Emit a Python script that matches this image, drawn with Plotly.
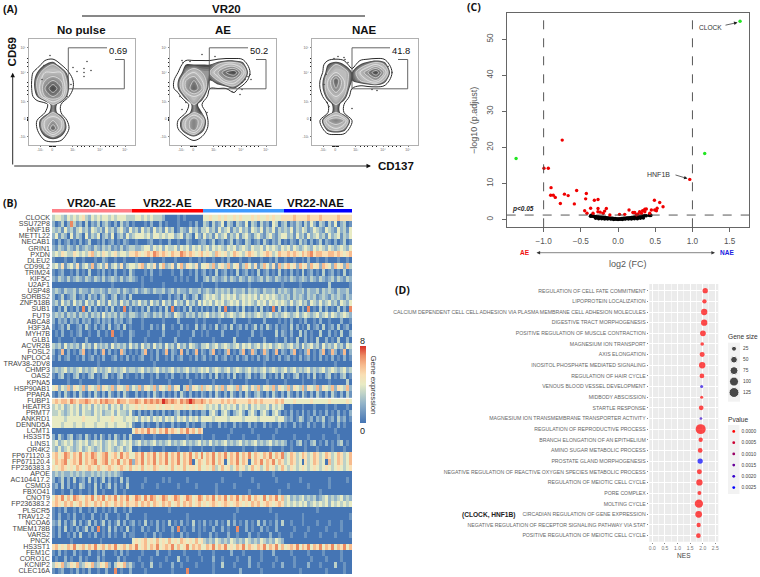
import plotly.graph_objects as go

W, H = 760, 577
def fx(p): return p / W
def fy(p): return 1 - p / H
FONT = "Liberation Sans"

# ---------- (A) flow cytometry density, digits read per 8-unit grid cell, top row first ----------
flow_grid = [0, 8, 16, 24, 32, 40, 48, 56, 64, 72, 80, 88, 96, 104]
flow_np = ["00000000000000","00000000000000","00000000000000",
           "00231000000000","02444100000000","03565200000000","03686200000000",
           "02565100000000","00031000000000","00131000000000","01454000000000",
           "01474100000000","00232000000000","00000000000000"]
flow_ae = ["00000000000000","00000000000000","00000000000000",
           "00222234430000","01343357851000","02564235530000","02575111200000",
           "00343000000000","00031000000000","00132000000000","01464000000000",
           "01463000000000","00121000000000","00000000000000"]
flow_nae = ["00000000000000","00000000000000","00000000000000",
            "00232023430000","00344246851000","01474234530000","01464100000000",
            "00343000000000","00131000000000","00131000000000","01565100000000",
            "00343000000000","00000000000000","00000000000000"]
flow_titles = ["No pulse", "AE", "NAE"]
flow_pct = ["0.69", "50.2", "41.8"]
flow_xticks = [11, 23.3, 43.7, 71, 96]
flow_xlabels = ["-10³", "0", "10³", "10⁴", "10⁵"]
flow_yticks = [8, 25.7, 42.7, 72, 97]
flow_ylabels = ["-10³", "0", "10³", "10⁴", "10⁵"]
flow_out_x = [[44,48,55,58,62,55,55,21,15,13,38,42],
              [13,12,20,32,45,78,75,72,81,80,72,16,12,10,70,62,37],
              [22,26,32,33,36,14,15,17,40,76,80,65,60,12]]
flow_out_y = [[77,73,76,83,74,72,68,89,79,65,48,60],
              [82,84,83,90,88,68,65,62,65,70,55,42,35,48,50,53,32],
              [86,88,87,85,82,70,42,38,36,78,72,54,55,60]]
flow_gate_x = [[86,95.3,95.3,39.3,39.3,78],[86,96,96,39.3,39.3,78],[86,95.7,95.7,40,40,78]]
flow_gate_y = [[85,85,55.7,55.7,96.7,96.7]] * 3

# ---------- (B) heat map: digits 0-8 read per ~3 px column, four sample groups ----------
genes = ["CLOCK","SSU72P8","HNF1B","METTL22","NECAB1","GRIN1","PXDN","DLEU2","CD99L2","TRIM24","KIF5C","U2AF1",
 "USP48","SORBS2","ZNF518B","SUB1","FUT9","ABCA8","H3F3A","MYH7B","GLB1","ACVR2B","FOSL2","NPLOC4","TRAV38-2DV8",
 "CHMP3","OAS2","KPNA5","HSP90AB1","PPARA","FUBP1","HEATR3","PRMT7","ANKRD1","DENND5A","LCMT1","HS3ST5","LINS1",
 "OR4K2","FP671120.3","FP671120.4","FP236383.3","APOE","AC104417.2","CSMD3","FBXO41","CNOT9","FP236383.2","PLSCR5",
 "TRAV12-2","NCOA6","TMEM178B","VARS2","PNCK","HS3ST1","FEM1C","CORO1C","KCNIP2","CLEC16A"]
group_names = ["VR20-AE", "VR22-AE", "VR20-NAE", "VR22-NAE"]
group_cols = [27, 24, 27, 23]
heat_rows = [
"344324343453243434434344433 344343433320000101000000 445445454454544454544545445 55565555655565555565555",
"201302731203021302310203120 100010200201000100010200 320312403203214032031204302 30213203142032031402301",
"323142313423143231423134214 231423142314230132142313 342314234132423143241324132 32413243124321432142314",
"241320413204132402314023142 344434244343442341320421 423142341324134213421342134 42314231423423142341324",
"102012010201300102012010210 010001200100200100210012 201301201302103201203102130 10210312020130210201301",
"213213213123213213231213123 322344243424334243424342 342434324342343243342434324 34243234324343243234324",
"343543354343563435434534435 565456576565465576565456 454365453465435654345653465 56565465675665566565456",
"100010020010001002100100100 010000100010001000010010 100100102000100100010010200 10010010200100100010010",
"342513425134261342513425134 435624351462351462543514 453624536245136425136425163 56452645264526542645263",
"101200102010300102010200103 100010200100010020010201 201030120103012010301201030 10201030120103012010301",
"213213123213213213123213123 210100100000001010100200 231321231321321321231321321 21321232132132123132132",
"000000000000000000001000000 000100000010000000000001 000010000000000100000000001 00000100000000030000001",
"232132231322132232132231321 231232132231231322132231 232132323132231323213223132 32132231322313232132231",
"201301230120312023102301203 000000000100201203102301 343432434342343434243434323 23132321323123213232132",
"231423142314231423142314231 324231423142314231423142 434243423434243432434243434 32423423143242342314324",
"102030102070302010203010702 010203010203070102030102 010203070102030102030107030 20103020701030201030207",
"232313231323132314232313213 321232132313214321323132 342323423432342323432342323 43234234323423424323432",
"202120212021201202120212012 000100000010000200000100 100001000020000100002000010 10200102001020010002001",
"101203001203102012030120301 000100201030010020100301 201030120301202013020310201 10302010301203012030120",
"010200101200100200107001002 100001000020000100002001 010000200001000020010000302 10200302010030020103002",
"001000010002000010000100002 000010000100002000010000 000100000030000100002000100 20103002010300201030020",
"323142323142314232314232314 231423142314231423143213 342342343234243423424342343 23423142342314232423143",
"201602010260102016020106201 010260102016021060201602 102601026010260162016201602 10260102601026016201602",
"102012001020120102001201020 101200102001020120010201 201020120102012010201201020 12010201201020102010201",
"000000000000000100000000000 000000010000000000000000 000000000000000000001000000 00000000000000000100000",
"232342323423234232342323423 323423234232342323423234 342343234234323423234234323 42342323423234234323423",
"102301023010230102301023010 010200102001020010200102 102030102030102301023010203 01023010203010230102301",
"000001000100000100000010000 000000100000100000010000 000100000100001000000100000 10000010001000010000030",
"452436254362543625436254362 436254362543625403625436 354253625436254253624536254 36254362543625436254362",
"102031020310203102031020310 020102031020102031020102 102031020310203102310203102 03102031020310203102031",
"565665765667656576766576656 676576767687676576787667 656555656565555656565555656 44454444454444454444454",
"343423434243424343424342434 454545554545545554545455 434342434342434243433424343 00100010001000100100010",
"334323434243324342334243324 102010201020102301020102 203420342023420342034203420 10201020102010201020102",
"444434444454444344445444344 342434243424342434243424 444344443444434444344444344 21201320120213012031201",
"444344434434443444344344434 100201002010020100201002 201002010020100201002010020 10020100201002010020100",
"000000000000000000000000000 465657564657565465756465 000000000100000010000000100 00000000000000000100000",
"203102301203102031020310203 000100010000100000100001 000100001000010000100001000 00010000100001000010000",
"342343423434234342343423434 234232342323423234232342 324232342323423234232342323 20102301023010201023010",
"324234323423432342343234234 001000100010000100010001 000100010000010001000010001 00100001000100001000100",
"564576465746576456745647564 465746574657465746574647 465746574657465746546574657 34653465346534653465346",
"465674565746567456746574657 265746574657465746570465 465746504657465046574657465 34653405346534063465346",
"545654546545654654565456546 454645465445464546455464 454634645346453464534645346 43543454345434543454345",
"232322323232232323232321000 000000000000000000000000 000000000000100000000001000 00000000000000000000000",
"201302030120302013020103020 000010000010100000100000 000000100000000010000000100 00000100000000010000010",
"120302010320103020130201030 000100001000000100000100 000010000010000000100000000 01000000100000010000000",
"100100200100103001000200100 000000000000000000000000 000010000000000100000000010 00000000000010000000000",
"465746476546574657465746574 576475764576457645764576 465746574657465746547465746 34232342323123423234232",
"565465645646546564654656465 564656465465645646564564 545654565456545465645654565 34343434234343424343434",
"101020010200102001010200102 000000000000100000000000 000000000001000000000010000 00000000000100000000000",
"102001020010020010200010020 000010000000000000100000 000000000010000000000000100 00000010000000000000001",
"213020130201302013020130201 201030102010301020103010 201020103020102010302010203 00100010000100010001000",
"102030102013020701030201030 100201002010020701002010 100200201007002010020100200 00010000100000100001000",
"102001020300102001020100201 100010020100010020100010 002010002001000200100020010 00100001000010000100001",
"000000100000000010000000000 454564546454645465454645 323243232432324323243232432 00000000000000000000000",
"564546574564657456465745646 574564657456574645746564 465746574546574654657465746 45657465746574657465746",
"102010020100200102000102010 000100002000100001000010 000100000200010000010002000 00100000100001000001000",
"010020100201000201000020100 001000100001000300100001 000200100001000200010000100 00010000010000100001000",
"354623546235462354620354623 100100300100020010000100 000100300010000200100001002 00010000200010000300100",
"101200102010200100200701002 000010000000010000700000 000100000000200000010000000 00000100000000100000100",
]
def chunk(s, n):
    return [int(c) for c in (s + s[-1] * n)[:n]]
heat_z = []
for row in heat_rows:
    parts = row.split()
    cells = []
    for part, n in zip(parts, group_cols):
        cells += chunk(part, n)
    heat_z.append(cells)
heat_cols = list(range(sum(group_cols)))
bar_z = [[g for g, n in enumerate(group_cols) for _ in range(n)]]

# ---------- (C) volcano ----------
red_x = [-0.75,-0.995,-0.937,-0.90,-0.905,-0.87,-0.843,-0.72,-0.67,-0.775,-0.556,-0.587,-0.426,-0.435,-0.318,-0.269,
         -0.448,-0.368,-0.417,-0.269,-0.157,-0.27,-0.336,-0.2,-0.11,0.964,0.489,0.56,0.605,0.525,0.493,0.448,0.38,
         0.36,0.29,0.2,0.224,0.148,0.426,0.314,0.02,0.09,0.516,0.36,0.247,0.33,0.27,-0.24,-0.18]
red_y = [22.0,14.2,14.2,8.8,6.7,6.7,6.1,7.0,6.6,4.4,8.0,4.3,7.2,5.7,5.3,5.5,2.4,3.1,1.7,3.0,3.0,2.1,1.7,1.7,1.2,
         11.1,5.3,4.7,3.5,3.1,2.6,2.6,2.9,2.1,2.1,1.9,1.9,2.6,1.7,1.7,1.4,1.4,2.4,2.8,1.3,2.4,1.5,2.0,2.3]
black_x = [-0.37,-0.36,-0.35,-0.33,-0.32,-0.31,-0.30,-0.29,-0.28,-0.27,-0.26,-0.25,-0.24,-0.23,-0.22,-0.21,-0.20,-0.19,
           -0.18,-0.17,-0.16,-0.15,-0.14,-0.13,-0.12,-0.11,-0.10,-0.09,-0.08,-0.07,-0.06,-0.05,-0.04,-0.03,-0.02,-0.01,
           0.0,0.01,0.02,0.03,0.04,0.05,0.06,0.07,0.08,0.09,0.10,0.11,0.12,0.13,0.14,0.15,0.16,0.17,0.18,0.19,0.20,
           0.21,0.22,0.23,0.24,0.25,0.26,0.27,0.28,0.29,0.30,0.31,0.32,0.34,0.36,0.38,0.42,0.44,
           -0.30,-0.26,-0.22,-0.18,-0.14,-0.10,-0.06,0.06,0.10,0.14,0.18,0.22,0.26,0.30,0.34]
black_y = [0.9,1.1,0.9,0.9,0.8,0.8,0.7,0.8,0.7,0.7,0.6,0.6,0.6,0.5,0.6,0.5,0.5,0.5,0.4,0.5,0.4,0.4,0.3,0.4,0.3,0.3,
           0.3,0.2,0.3,0.2,0.2,0.1,0.2,0.1,0.1,0.1,0.0,0.1,0.1,0.1,0.1,0.2,0.2,0.2,0.3,0.2,0.3,0.3,0.3,0.4,0.3,0.4,
           0.4,0.4,0.5,0.5,0.5,0.5,0.6,0.6,0.6,0.7,0.6,0.7,0.7,0.8,0.8,0.8,0.9,0.9,1.0,1.0,1.1,1.1,
           0.3,0.2,0.2,0.1,0.1,0.1,0.0,0.0,0.1,0.1,0.1,0.2,0.2,0.3,0.4]
green_x = [-1.37, 1.165, 1.64]
green_y = [16.9, 18.3, 55.0]

# ---------- (D) GSEA dot plot ----------
terms = ["REGULATION OF CELL FATE COMMITMENT","LIPOPROTEIN LOCALIZATION",
 "CALCIUM DEPENDENT CELL CELL ADHESION VIA PLASMA MEMBRANE CELL ADHESION MOLECULES","DIGESTIVE TRACT MORPHOGENESIS",
 "POSITIVE REGULATION OF MUSCLE CONTRACTION","MAGNESIUM ION TRANSPORT","AXIS ELONGATION",
 "INOSITOL PHOSPHATE MEDIATED SIGNALING","REGULATION OF HAIR CYCLE","VENOUS BLOOD VESSEL DEVELOPMENT","MIDBODY ABSCISSION",
 "STARTLE RESPONSE","MAGNESIUM ION TRANSMEMBRANE TRANSPORTER ACTIVITY","REGULATION OF REPRODUCTIVE PROCESS",
 "BRANCH ELONGATION OF AN EPITHELIUM","AMINO SUGAR METABOLIC PROCESS","PROSTATE GLAND MORPHOGENESIS",
 "NEGATIVE REGULATION OF REACTIVE OXYGEN SPECIES METABOLIC PROCESS","REGULATION OF MEIOTIC CELL CYCLE","PORE COMPLEX",
 "MOLTING CYCLE","CIRCADIAN REGULATION OF GENE EXPRESSION","NEGATIVE REGULATION OF RECEPTOR SIGNALING PATHWAY VIA STAT",
 "POSITIVE REGULATION OF MEIOTIC CELL CYCLE"]
nes = [2.10,2.07,2.06,2.06,2.01,1.98,1.98,1.98,1.97,1.96,1.96,1.94,1.93,1.92,1.92,1.90,1.90,1.87,1.87,1.87,1.85,1.84,1.84,1.83]
gene_size = [29,18,43,43,34,12,25,43,22,8,8,22,6,125,18,22,29,25,43,15,82,50,18,22]
pvals = [0,0,0,0,0,0,0,0,0,0.0022,0,0,0.002,0,0,0,0.0025,0,0,0,0,0,0,0]
size_keys = [25, 50, 75, 100, 125]
p_keys = [0.0, 0.0005, 0.001, 0.0015, 0.002, 0.0025]
def dia(g): return 1.25 * g ** 0.43

fig = go.Figure()

# flow panels
flow_boxes = [(29, 135), (170, 276), (312, 418)]
GRAYS = [[0, "#ffffff"], [1/9, "#ffffff"], [1.1/9, "#333333"], [1.6/9, "#6e6e6e"], [2.2/9, "#a0a0a0"], [3/9, "#c0c0c0"],
         [4/9, "#b0b0b0"], [5/9, "#959595"], [6/9, "#777777"], [7/9, "#5c5c5c"], [8/9, "#464646"], [1, "#3e3e3e"]]
layout_axes = {}
def ax(name, **kw):
    layout_axes[name] = kw
for i, data in enumerate([flow_np, flow_ae, flow_nae]):
    n = i + 1
    z = [[int(c) for c in r] for r in data][::-1]
    xa, ya = f"x{n}", f"y{n}"
    fig.add_trace(go.Contour(x=flow_grid, y=flow_grid, z=z, xaxis=xa, yaxis=ya, showscale=False, zmin=0, zmax=9,
        colorscale=GRAYS, autocontour=False, contours=dict(start=1, end=9, size=0.25, coloring="fill"),
        line=dict(width=0, smoothing=1.0), hoverinfo="skip"))
    fig.add_trace(go.Contour(x=flow_grid, y=flow_grid, z=z, xaxis=xa, yaxis=ya, showscale=False,
        autocontour=False, contours=dict(start=3, end=8, size=1, coloring="none"),
        line=dict(color="#f6f6f6", width=0.6, smoothing=1.0), hoverinfo="skip"))
    fig.add_trace(go.Contour(x=flow_grid, y=flow_grid, z=z, xaxis=xa, yaxis=ya, showscale=False,
        autocontour=False, contours=dict(start=1, end=1, size=1, coloring="none"),
        line=dict(color="#2a2a2a", width=1.0, smoothing=1.0), hoverinfo="skip"))
    fig.add_trace(go.Scatter(x=flow_out_x[i], y=flow_out_y[i], mode="markers", xaxis=xa, yaxis=ya,
        marker=dict(size=1.6, color="#444")))
    fig.add_trace(go.Scatter(x=flow_gate_x[i], y=flow_gate_y[i], mode="lines", xaxis=xa, yaxis=ya,
        line=dict(color="#555", width=0.9)))
    l, r = flow_boxes[i]
    tick = dict(showline=True, mirror=True, linecolor="#b0b0b0", linewidth=1, ticks="outside", ticklen=1.5,
                tickcolor="#777", tickwidth=0.5, tickfont=dict(size=3.5, color="#666"), showgrid=False, zeroline=False,
                range=[0, 106], tickmode="array")
    ax(f"xaxis{n}", domain=[fx(l), fx(r)], anchor=ya, tickvals=flow_xticks, ticktext=flow_xlabels,
       minor=dict(tickvals=[20,21,22,22.6,23.6,24,25,26,48,52,55,60,64,76,80,84,88], ticks="outside", ticklen=1, tickcolor="#222", tickwidth=0.6), **tick)
    ax(f"yaxis{n}", domain=[fy(144.5), fy(38.5)], anchor=xa, tickvals=flow_yticks, ticktext=flow_ylabels,
       minor=dict(tickvals=[24,25,25.4,26,26.4,27,50,54,58,62,78,82,86], ticks="outside", ticklen=1, tickcolor="#222", tickwidth=0.6), **tick)

# annotation bar + heat map
HEAT = [[0, "#4575b4"], [0.125, "#6c94bf"], [0.25, "#92b3c9"], [0.375, "#bcd1c8"], [0.5, "#e8ebc4"], [0.625, "#f9dfb4"],
        [0.75, "#f7bb8e"], [0.875, "#ec8a63"], [1, "#d73027"]]
fig.add_trace(go.Heatmap(z=bar_z, x=heat_cols, xaxis="x4", yaxis="y4", showscale=False, zmin=0, zmax=3,
    colorscale=[[0, "#ff7f87"], [1/3, "#ff7f87"], [1/3, "#ff0000"], [2/3, "#ff0000"], [2/3, "#3f9bff"], [0.999, "#3f9bff"], [0.999, "#0000ff"], [1, "#0000ff"]],
    hoverinfo="skip"))
fig.add_trace(go.Heatmap(z=heat_z, x=heat_cols, y=genes, xaxis="x5", yaxis="y5", zmin=0, zmax=8, colorscale=HEAT,
    colorbar=dict(thickness=6, thicknessmode="pixels", lenmode="pixels", len=77, x=fx(359.7), xanchor="left",
                  y=fy(346), yanchor="top", xpad=0, ypad=0, outlinewidth=0, showticklabels=False, ticks="", tickvals=[])))
ax("xaxis4", domain=[fx(52), fx(352)], anchor="y4", visible=False, range=[-0.5, sum(group_cols) - 0.5])
ax("yaxis4", domain=[fy(212.5), fy(209)], anchor="x4", visible=False)
ax("xaxis5", domain=[fx(52), fx(352)], anchor="y5", visible=False, range=[-0.5, sum(group_cols) - 0.5])
ax("yaxis5", domain=[fy(574), fy(214.5)], anchor="x5", autorange="reversed", tickmode="array", tickvals=genes, ticktext=genes,
   tickfont=dict(size=7.1, color="#444"), ticks="", showgrid=False, ticklabelstandoff=1)

# volcano
fig.add_trace(go.Scatter(x=black_x, y=black_y, mode="markers", xaxis="x6", yaxis="y6", marker=dict(size=3.6, color="black")))
fig.add_trace(go.Scatter(x=red_x, y=red_y, mode="markers", xaxis="x6", yaxis="y6", marker=dict(size=3.4, color="#f00000")))
fig.add_trace(go.Scatter(x=green_x, y=green_y, mode="markers", xaxis="x6", yaxis="y6", marker=dict(size=3.4, color="#22e622")))
ax("xaxis6", domain=[fx(506.7), fx(749)], anchor="y6", range=[-1.496, 1.76], tickvals=[-1, -0.5, 0, 0.5, 1, 1.5],
   ticktext=["−1.0", "−0.5", "0.0", "0.5", "1.0", "1.5"], showline=True, mirror=True, linecolor="#666", linewidth=1,
   ticks="outside", ticklen=4, tickcolor="#666", tickfont=dict(size=8.2, color="#555"), showgrid=False, zeroline=False,
   ticklabelstandoff=2, title=dict(text="log2 (FC)", font=dict(size=9, color="#555"), standoff=15))
ax("yaxis6", domain=[fy(227.3), fy(13.3)], anchor="x6", range=[-2.2, 57.2], tickvals=[0, 10, 20, 30, 40, 50], showline=True,
   mirror=True, linecolor="#666", linewidth=1, ticks="outside", ticklen=4, tickcolor="#666", tickangle=-90,
   tickfont=dict(size=8.2, color="#555"), showgrid=False, zeroline=False, ticklabelstandoff=5,
   title=dict(text="−log10 (p.adjust)", font=dict(size=9, color="#555"), standoff=7))

# dot plot
PSCALE = [[0, "#ff0000"], [1, "#0000ff"]]
fig.add_trace(go.Scatter(x=nes, y=terms, mode="markers", xaxis="x7", yaxis="y7",
    marker=dict(size=[dia(g) for g in gene_size], color=pvals, cmin=0, cmax=0.0025, colorscale=PSCALE, line=dict(width=0))))
ax("xaxis7", domain=[fx(649.3), fx(718.3)], anchor="y7", range=[-0.12, 2.62], tickvals=[0, 0.5, 1, 1.5, 2, 2.5],
   ticktext=["0.0", "0.5", "1.0", "1.5", "2.0", "2.5"], gridcolor="white", gridwidth=0.7, zeroline=False,
   ticks="outside", ticklen=1.5, tickcolor="#888", tickwidth=0.5, tickfont=dict(size=5, color="#777"),
   minor=dict(showgrid=True, dtick=0.25, gridcolor="#f6f6f6", gridwidth=0.4), ticklabelstandoff=0,
   title=dict(text="NES", font=dict(size=6.5, color="#444"), standoff=3))
ax("yaxis7", domain=[fy(541.7), fy(284)], anchor="x7", range=[23.57, -0.63], type="category", categoryorder="array", categoryarray=terms,
   tickmode="array", tickvals=terms, ticktext=terms, gridcolor="white", gridwidth=0.7, ticks="outside", ticklen=1.5, tickcolor="#888",
   tickwidth=0.5, tickfont=dict(size=5.2, color="#666"), ticklabelstandoff=0)

# hand-built legends
fig.add_trace(go.Scatter(x=[0] * len(size_keys), y=[str(s) for s in size_keys], mode="markers", xaxis="x8", yaxis="y8",
    marker=dict(size=[dia(g) for g in size_keys], color="black")))
ax("xaxis8", domain=[fx(728), fx(740)], anchor="y8", visible=False, range=[-1, 1])
ax("yaxis8", domain=[fy(401.7), fy(342.7)], anchor="x8", autorange="reversed", type="category", side="right", showline=False,
   ticks="", showgrid=False, zeroline=False, tickfont=dict(size=4.8, color="#444"), ticklabelstandoff=2)
p_labels = [f"{p:.4f}" for p in p_keys]
fig.add_trace(go.Scatter(x=[0] * len(p_keys), y=p_labels, mode="markers", xaxis="x9", yaxis="y9",
    marker=dict(size=2.8, color=p_keys, cmin=0, cmax=0.0025, colorscale=PSCALE)))
ax("xaxis9", domain=[fx(728), fx(739.5)], anchor="y9", visible=False, range=[-1, 1])
ax("yaxis9", domain=[fy(494), fy(425)], anchor="x9", autorange="reversed", type="category", side="right", showline=False,
   ticks="", showgrid=False, zeroline=False, tickfont=dict(size=4.8, color="#444"), ticklabelstandoff=1)

# texts
def label(x, y, text, size, color="#111", bold=False, angle=0, anchor="center", family=FONT):
    return dict(xref="paper", yref="paper", x=fx(x), y=fy(y), text=f"<b>{text}</b>" if bold else text, showarrow=False,
                font=dict(size=size, color=color, family=family), textangle=angle, xanchor=anchor, yanchor="middle")
def arrow(x0, y0, x1, y1, color="#111", width=1, side="end", head=2, asize=1):
    return dict(xref="paper", yref="paper", x=fx(x1), y=fy(y1), ax=x0 - x1, ay=y0 - y1, axref="pixel", ayref="pixel", text="",
                showarrow=True, arrowhead=head, arrowside=side, arrowwidth=width,
                arrowsize=asize, arrowcolor=color, startarrowhead=head, startarrowsize=asize, standoff=0, startstandoff=0)

ann = [
 label(1, 9, "(A)", 10.5, bold=True, anchor="left"), label(1, 203, "(B)", 10.5, bold=True, anchor="left", family="Open Sans"),
 label(465, 7, "(C)", 10.5, bold=True, anchor="left", family="Open Sans"), label(393, 290, "(D)", 10.5, bold=True, anchor="left", family="Open Sans"),
 label(226.7, 9.3, "VR20", 11.5, bold=True),
 label(396, 166, "CD137", 11.5, bold=True), label(11.7, 51.7, "CD69", 11.5, bold=True, angle=-90),
 label(362.7, 340.7, "8", 9, color="#222"), label(362.7, 431, "0", 9, color="#222"),
 label(373.5, 385, "Gene expression", 7.8, color="#333", angle=90),
 label(710, 27.7, "CLOCK", 6.6, color="#333"), label(658, 174, "HNF1B", 7, color="#333"),
 label(510, 209.3, "<b><i>p&lt;0.05</i></b>", 6.5, color="#222", anchor="left"),
 label(525, 252.7, "AE", 6.5, color="#f01010", bold=True), label(727, 252.7, "NAE", 6.5, color="#2020e0", bold=True),
 label(489, 515, "(CLOCK, HNF1B)", 6.6, color="#222", bold=True),
 label(743, 336, "Gene size", 6.6, color="#333"), label(738, 419, "Pvalue", 6.6, color="#333"),
 arrow(12.7, 166, 371, 166, width=0.9), arrow(12.7, 166, 12.7, 72.7, width=0.9),
 arrow(535, 252.7, 715, 252.7, color="#333", width=0.6, side="end+start", head=2, asize=1.2),
 arrow(724, 25.5, 737.5, 22.5, color="#222", width=0.7), arrow(674, 174.5, 687.5, 178.6, color="#222", width=0.7),
]
for (l, r), t, v in zip(flow_boxes, flow_titles, flow_pct):
    ann.append(label((l + r) / 2 - 0.3, 30, t, 11.5, bold=True))
    ann.append(label(l + 88.7, 50.3, v, 9.4, bold=False, color="#111"))
for name, cx in zip(group_names, [91.7, 167.7, 243, 315.7]):
    ann.append(label(cx, 203, name, 11.5, bold=True))

shapes = [
 dict(type="rect", xref="paper", yref="paper", x0=fx(649.3), x1=fx(718.3), y0=fy(541.7), y1=fy(284), fillcolor="#ebebeb", line_width=0, layer="below"),
 dict(type="rect", xref="paper", yref="paper", x0=fx(728), x1=fx(740), y0=fy(401.7), y1=fy(342.7), fillcolor="#f2f2f2", line_width=0, layer="below"),
 dict(type="rect", xref="paper", yref="paper", x0=fx(728), x1=fx(739.5), y0=fy(494), y1=fy(425), fillcolor="#f2f2f2", line_width=0, layer="below"),
 dict(type="line", xref="paper", yref="paper", x0=fx(82), x1=fx(365), y0=fy(16), y1=fy(16), line=dict(color="#111", width=1)),
 dict(type="line", xref="x6", yref="y6 domain", x0=-1, x1=-1, y0=0, y1=1, line=dict(color="#444", width=0.9, dash="dash")),
 dict(type="line", xref="x6", yref="y6 domain", x0=1, x1=1, y0=0, y1=1, line=dict(color="#444", width=0.9, dash="dash")),
 dict(type="line", xref="x6 domain", yref="y6", x0=0, x1=1, y0=1.2, y1=1.2, line=dict(color="#444", width=0.9, dash="dash")),
 dict(type="line", xref="paper", yref="paper", x0=fx(52), x1=fx(352), y0=fy(398.3), y1=fy(398.3), line=dict(color="white", width=1)),
]

fig.update_layout(width=W, height=H, margin=dict(l=0, r=0, t=0, b=0, pad=0, autoexpand=False), paper_bgcolor="white",
    plot_bgcolor="rgba(0,0,0,0)", showlegend=False, font=dict(family=FONT), annotations=ann, shapes=shapes, **layout_axes)
fig.write_html("out.html", config={"displayModeBar": False}, post_script="document.body.style.margin='0';")
